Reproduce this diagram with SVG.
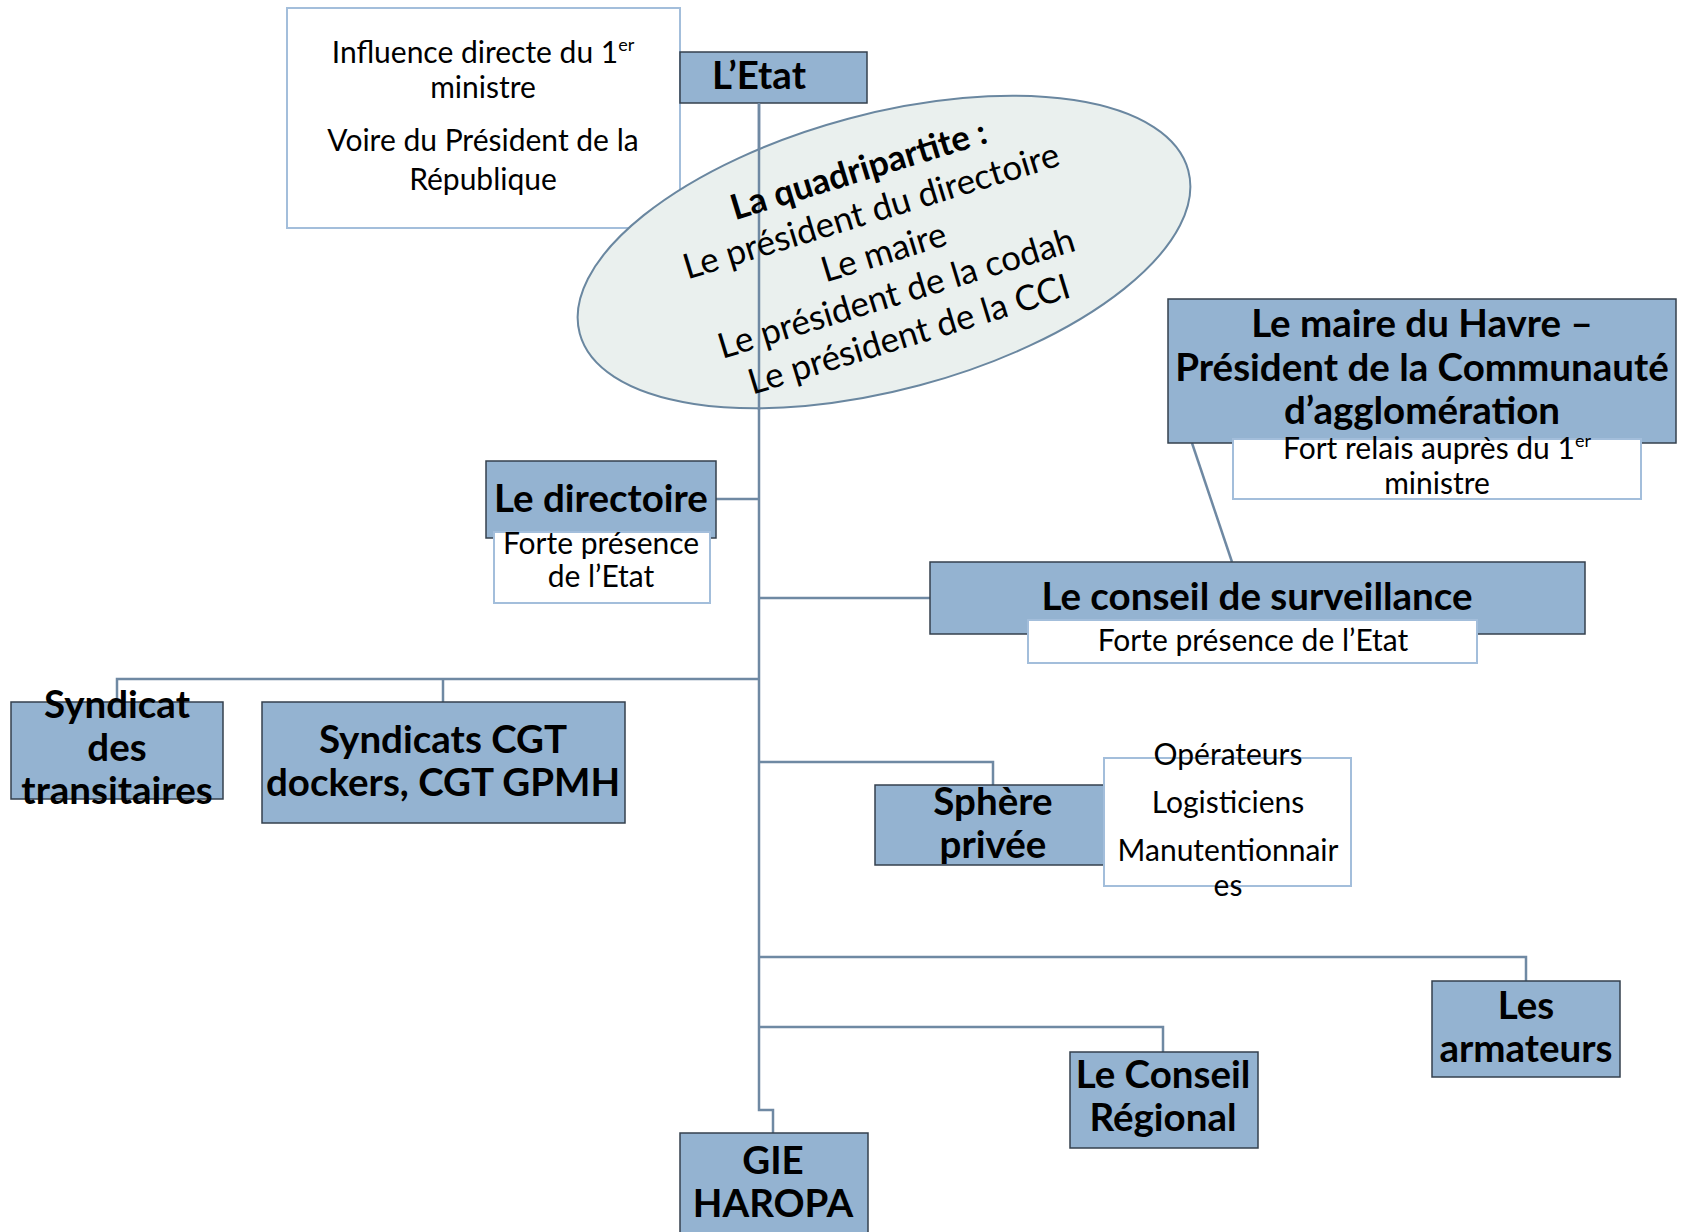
<svg xmlns="http://www.w3.org/2000/svg" width="1686" height="1232" viewBox="0 0 1686 1232">
<style>
.blue{fill:#94b3d1;stroke:#34404d;stroke-width:1.5}
.note{fill:#ffffff;stroke:#a3bedb;stroke-width:2}
.conn{fill:none;stroke:#6f89a3;stroke-width:2.5}
.b{font-family:Lato,"Liberation Sans",sans-serif;font-weight:bold;font-size:38.5px;fill:#000;text-anchor:middle}
.r{font-family:Lato,"Liberation Sans",sans-serif;font-size:30px;fill:#000;text-anchor:middle}
.e{font-family:Lato,"Liberation Sans",sans-serif;font-size:35px;fill:#000;text-anchor:middle}
.sup{font-size:18px}
</style>
<rect width="1686" height="1232" fill="#ffffff"/>

<g id="influence">
<rect class="note" x="287" y="8" width="393" height="220"/>
<text class="r" x="483" y="63">Influence directe du 1<tspan class="sup" dy="-12">er</tspan></text>
<text class="r" x="483" y="98">ministre</text>
<text class="r" x="483" y="151">Voire du Président de la</text>
<text class="r" x="483" y="190">République</text>
</g>

<g id="connectors">
<path class="conn" d="M759,103 V1110 H773 V1133"/>
<path class="conn" d="M716,499 H759"/>
<path class="conn" d="M759,598 H930"/>
<path class="conn" d="M1192,443 L1232,562"/>
<path class="conn" d="M117,702 V679 H759"/>
<path class="conn" d="M443,679 V702"/>
<path class="conn" d="M759,762 H993 V785"/>
<path class="conn" d="M759,957 H1526 V981"/>
<path class="conn" d="M759,1027 H1163 V1052"/>
</g>

<g id="etat">
<rect class="blue" x="680" y="52" width="187" height="51"/>
<text class="b" x="759" y="89">L’Etat</text>
</g>

<g id="quadripartite">
<ellipse cx="0" cy="0" rx="315" ry="138" transform="translate(884,252) rotate(-15)" fill="#eaf0ee" stroke="#6a87a0" stroke-width="2"/>
<path class="conn" d="M759,103 V410"/>
<g transform="translate(884,253) rotate(-17)">
<text class="e" x="0" y="-75" font-weight="bold">La quadripartite :</text>
<text class="e" x="0" y="-32">Le président du directoire</text>
<text class="e" x="0" y="11">Le maire</text>
<text class="e" x="0" y="54">Le président de la codah</text>
<text class="e" x="0" y="97">Le président de la CCI</text>
</g>
</g>

<g id="maire">
<rect class="blue" x="1168" y="299" width="508" height="144"/>
<text class="b" x="1422" y="337">Le maire du Havre –</text>
<text class="b" x="1422" y="381">Président de la Communauté</text>
<text class="b" x="1422" y="424">d’agglomération</text>
<rect class="note" x="1233" y="439" width="408" height="60"/>
<text class="r" x="1437" y="459">Fort relais auprès du 1<tspan class="sup" dy="-12">er</tspan></text>
<text class="r" x="1437" y="494">ministre</text>
</g>

<g id="directoire">
<rect class="blue" x="486" y="461" width="230" height="77"/>
<rect class="note" x="494" y="532" width="216" height="71"/>
<text class="b" x="601" y="512">Le directoire</text>
<text class="r" x="601" y="554">Forte présence</text>
<text class="r" x="601" y="587">de l’Etat</text>
</g>

<g id="conseil-surveillance">
<rect class="blue" x="930" y="562" width="655" height="72"/>
<text class="b" x="1257" y="610">Le conseil de surveillance</text>
<rect class="note" x="1028" y="620" width="449" height="43"/>
<text class="r" x="1253" y="651">Forte présence de l’Etat</text>
</g>

<g id="syndicat-transitaires">
<rect class="blue" x="11" y="702" width="212" height="97"/>
<text class="b" x="117" y="718">Syndicat</text>
<text class="b" x="117" y="761">des</text>
<text class="b" x="117" y="804">transitaires</text>
</g>

<g id="syndicats-cgt">
<rect class="blue" x="262" y="702" width="363" height="121"/>
<text class="b" x="443" y="753">Syndicats CGT</text>
<text class="b" x="443" y="796">dockers, CGT GPMH</text>
</g>

<g id="sphere-privee">
<rect class="blue" x="875" y="785" width="233" height="80"/>
<text class="b" x="993" y="815">Sphère</text>
<text class="b" x="993" y="858">privée</text>
<rect class="note" x="1104" y="758" width="247" height="128"/>
<text class="r" x="1228" y="765">Opérateurs</text>
<text class="r" x="1228" y="813">Logisticiens</text>
<text class="r" x="1228" y="861">Manutentionnair</text>
<text class="r" x="1228" y="896">es</text>
</g>

<g id="armateurs">
<rect class="blue" x="1432" y="981" width="188" height="96"/>
<text class="b" x="1526" y="1019">Les</text>
<text class="b" x="1526" y="1062">armateurs</text>
</g>

<g id="conseil-regional">
<rect class="blue" x="1070" y="1052" width="188" height="96"/>
<text class="b" x="1163" y="1088">Le Conseil</text>
<text class="b" x="1163" y="1131">Régional</text>
</g>

<g id="haropa">
<rect class="blue" x="680" y="1133" width="188" height="110"/>
<text class="b" x="773" y="1174">GIE</text>
<text class="b" x="773" y="1217">HAROPA</text>
</g>
</svg>
